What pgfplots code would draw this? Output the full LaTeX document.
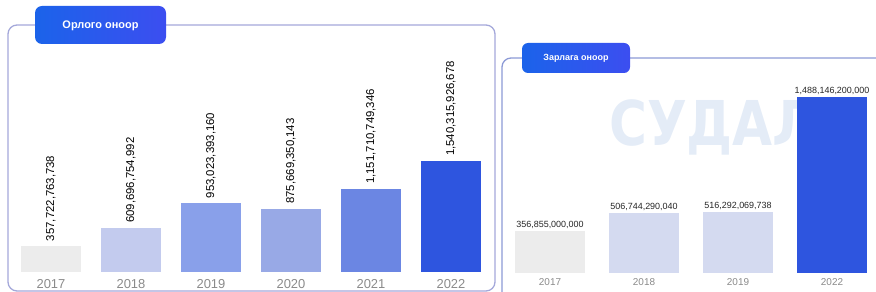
\documentclass[border=0pt]{standalone}
\usepackage{fontspec}
\setmainfont{Liberation Sans}
\newfontfamily\wmfont{DejaVu Sans Condensed}
\usepackage{pgfplots}
\pgfplotsset{compat=1.18}
\definecolor{frameL}{HTML}{A4A8DA}
\definecolor{frameR}{HTML}{8C9AD6}
\definecolor{badgeA}{HTML}{1B63EA}
\definecolor{badgeB}{HTML}{3C4EF0}
\definecolor{cA}{HTML}{ECECEC}
\definecolor{cB}{HTML}{C3CBEE}
\definecolor{cC}{HTML}{89A0EA}
\definecolor{cD}{HTML}{98A9E6}
\definecolor{cE}{HTML}{6B86E3}
\definecolor{cF}{HTML}{2E55DF}
\definecolor{rB}{HTML}{D4DAF0}
\definecolor{yrgray}{HTML}{8A8A8A}
\definecolor{wm}{HTML}{E4ECF7}
\begin{document}
\begin{tikzpicture}
\useasboundingbox (0,0) rectangle (876bp,292bp);
% watermark
\node[anchor=west, text=wm, font=\wmfont\bfseries\fontsize{62}{62}\selectfont, inner sep=0, xscale=0.93] at (609bp,165bp) {СУДАЛГ};
% frames
\draw[frameL, line width=1.3bp, rounded corners=9bp] (8bp,267bp) rectangle (495bp,1bp);
\draw[frameR, line width=1.3bp, rounded corners=9bp] (502bp,-20bp) -- (502bp,234bp) -- (900bp,234bp);
% badges
\shade[left color=badgeA, right color=badgeB, rounded corners=7bp] (35bp,248bp) rectangle (166bp,286bp);
\node[text=white, font=\bfseries\fontsize{11}{13}\selectfont] at (100.5bp,266bp) {Орлого оноор};
\shade[left color=badgeA, right color=badgeB, rounded corners=6bp] (522bp,219bp) rectangle (630bp,249bp);
\node[text=white, font=\bfseries\fontsize{9}{11}\selectfont] at (576bp,234bp) {Зарлага оноор};
% left axis
\begin{axis}[
  at={(11bp,20bp)}, anchor=south west,
  scale only axis, width=480bp, height=122.5bp,
  xmin=-0.5, xmax=5.5, ymin=0, ymax=1700e9,
  axis line style={draw=none}, ytick=\empty,
  xtick={0,1,2,3,4,5}, xticklabels={2017,2018,2019,2020,2021,2022},
  major tick length=0,
  xticklabel style={font=\fontsize{13}{15}\selectfont, text=yrgray, yshift=-3.5bp},
  ybar, bar width=60bp, bar shift=0pt, clip=false,
  every node near coord/.append style={rotate=90, anchor=west, inner xsep=5bp, inner ysep=0pt, font=\fontsize{11.4}{13}\selectfont, text=black},
]
\addplot[fill=cA, draw=none, nodes near coords={357,722,763,738}] coordinates {(0,357722763738)};
\addplot[fill=cB, draw=none, nodes near coords={609,696,754,992}] coordinates {(1,609696754992)};
\addplot[fill=cC, draw=none, nodes near coords={953,023,393,160}] coordinates {(2,953023393160)};
\addplot[fill=cD, draw=none, nodes near coords={875,669,350,143}] coordinates {(3,875669350143)};
\addplot[fill=cE, draw=none, nodes near coords={1,151,710,749,346}] coordinates {(4,1151710749346)};
\addplot[fill=cF, draw=none, nodes near coords={1,540,315,926,678}] coordinates {(5,1540315926678)};
\end{axis}
% right axis
\begin{axis}[
  at={(503bp,19bp)}, anchor=south west,
  scale only axis, width=373bp, height=180bp,
  xmin=-0.5, xmax=3.468, ymin=0, ymax=1521.9e9,
  axis line style={draw=none}, ytick=\empty,
  xtick={0,1,2,3}, xticklabels={2017,2018,2019,2022},
  major tick length=0,
  xticklabel style={font=\fontsize{10}{12}\selectfont, text=yrgray, yshift=-2bp},
  ybar, bar width=70bp, bar shift=0pt, clip=false,
  every node near coord/.append style={anchor=south, inner sep=2bp, font=\fontsize{9}{11}\selectfont, text=black!85},
]
\addplot[fill=cA, draw=none, nodes near coords={356,855,000,000}] coordinates {(0,356855000000)};
\addplot[fill=rB, draw=none, nodes near coords={506,744,290,040}] coordinates {(1,506744290040)};
\addplot[fill=rB, draw=none, nodes near coords={516,292,069,738}] coordinates {(2,516292069738)};
\addplot[fill=cF, draw=none, nodes near coords={1,488,146,200,000}] coordinates {(3,1488146200000)};
\end{axis}
\end{tikzpicture}
\end{document}
